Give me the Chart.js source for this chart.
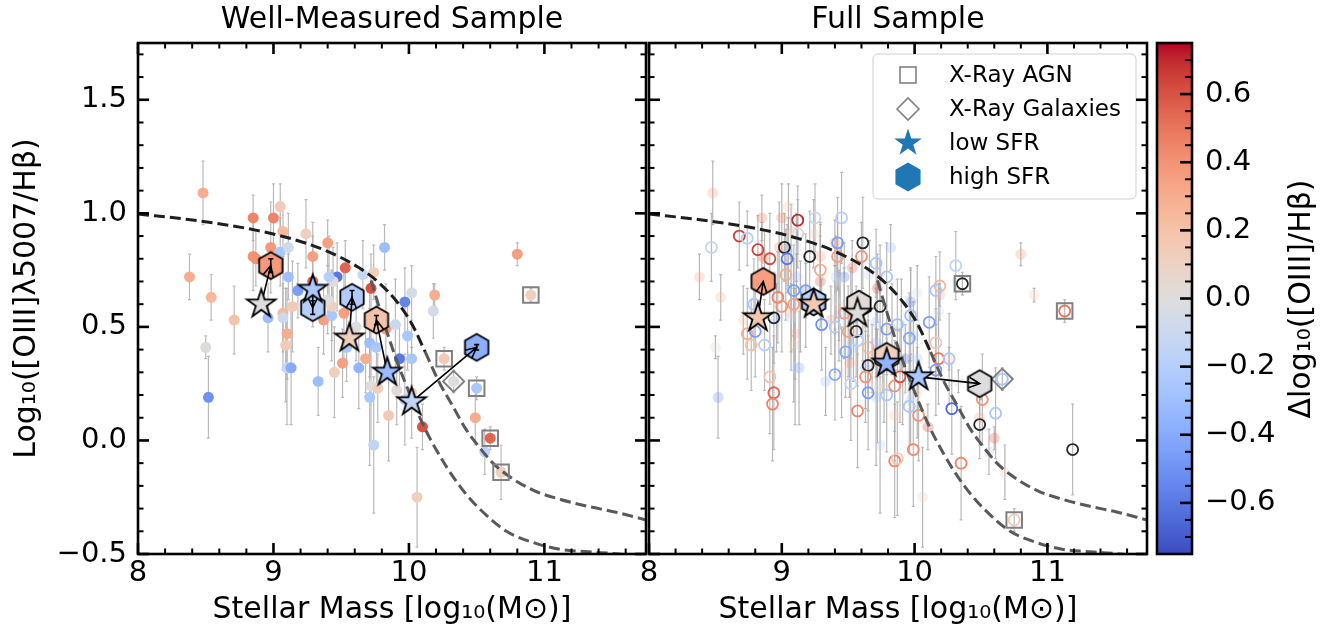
<!DOCTYPE html>
<html><head><meta charset="utf-8">
<title>Mass-Excitation diagram</title>
<script src="https://cdn.jsdelivr.net/npm/chart.js@4.4.1/dist/chart.umd.min.js"></script>
<style>
html,body{margin:0;padding:0;background:#ffffff;}
body{width:1328px;height:631px;position:relative;overflow:hidden;}
canvas{position:absolute;top:0;}
</style></head><body>
<canvas id="cWM" width="660" height="631" style="left:0px;width:660px;height:631px"></canvas>
<canvas id="cFull" width="560" height="631" style="left:600px;width:560px;height:631px"></canvas>
<canvas id="cBar" width="178" height="631" style="left:1150px;width:178px;height:631px"></canvas>
<script>
// ---------------- tick labels ----------------
const massTicks = [8, 9, 10, 11];
const o3Ticks = [-0.5, 0.0, 0.5, 1.0, 1.5];
const deltaTicks = [-0.6, -0.4, -0.2, 0.0, 0.2, 0.4, 0.6];
const panelTitles = ['Well-Measured Sample', 'Full Sample'];
const xTitle = 'Stellar Mass [log\u2081\u2080(M\u2299)]';
const yTitle = 'Log\u2081\u2080([OIII]\u03bb5007/H\u03b2)';
const cbTitleText = '\u0394log\u2081\u2080([OIII]/H\u03b2)';
const legendLabels = ['X-Ray AGN', 'X-Ray Galaxies', 'low SFR', 'high SFR'];

// ---------------- Well-Measured sample ----------------
const wmMass = [8.48,8.38,8.54,8.71,8.50,8.52,8.85,9.00,9.05,9.07,
  9.24,9.40,8.85,8.87,8.98,9.05,9.11,9.29,9.53,9.11,
  9.18,9.29,9.47,9.44,9.41,9.72,9.74,9.66,9.82,9.14,
  9.07,9.07,8.96,9.37,9.43,9.43,9.52,9.40,9.10,9.09,
  9.61,9.71,9.71,9.83,9.10,9.13,9.33,9.45,9.51,9.63,
  9.68,9.72,9.71,9.77,9.85,9.74,9.91,9.93,10.02,9.99,
  9.90,9.97,10.02,9.76,9.54,10.10,10.06,10.02,9.97,10.80,
  10.19,10.18,10.26,10.33,10.50,10.49,10.60,10.56,10.68,10.90];
const wmO3 = [1.09,0.72,0.63,0.53,0.41,0.19,0.98,0.98,1.03,0.92,
  0.91,0.87,0.81,0.80,0.85,0.83,0.85,0.81,0.76,0.72,
  0.66,0.70,0.72,0.70,0.72,0.67,0.74,0.73,0.85,0.59,
  0.56,0.54,0.54,0.53,0.55,0.59,0.56,0.62,0.47,0.42,
  0.50,0.52,0.43,0.49,0.32,0.32,0.26,0.30,0.34,0.32,
  0.36,0.24,0.19,0.23,0.11,-0.02,0.22,0.36,0.36,0.46,
  0.51,0.61,0.65,0.41,0.41,0.06,-0.25,0.21,0.18,0.82,
  0.64,0.57,0.36,0.26,0.23,0.10,0.01,-0.05,-0.14,0.64];
const wmDelta = [0.30,0.30,0.25,0.20,0.02,-0.50,0.45,0.45,0.15,0.25,
  0.12,0.35,0.40,0.40,0.38,-0.25,-0.08,0.35,0.55,-0.30,
  -0.45,0.55,-0.60,0.00,-0.20,0.60,0.12,-0.12,-0.30,0.15,
  0.25,-0.10,-0.30,0.35,-0.25,0.12,0.35,0.00,0.30,0.15,
  0.00,-0.25,-0.30,0.35,-0.12,-0.40,-0.30,0.12,0.35,-0.35,
  0.30,0.00,-0.25,0.12,0.15,-0.15,0.02,-0.60,-0.25,-0.25,
  -0.10,-0.55,-0.05,-0.25,-0.25,0.60,0.12,0.12,-0.20,0.35,
  0.30,-0.05,0.15,0.00,-0.25,0.30,0.55,-0.15,0.12,0.12];
const wmErr = [0.14,0.10,0.10,0.15,0.05,0.18,0.10,0.15,0.10,0.12,
  0.15,0.10,0.15,0.12,0.20,0.15,0.15,0.15,0.12,0.10,
  0.12,0.20,0.15,0.15,0.18,0.15,0.12,0.15,0.10,0.20,
  0.25,0.15,0.15,0.15,0.20,0.15,0.20,0.15,0.20,0.25,
  0.15,0.15,0.15,0.20,0.25,0.25,0.15,0.20,0.15,0.18,
  0.15,0.25,0.30,0.15,0.20,0.30,0.15,0.15,0.15,0.15,
  0.20,0.15,0.12,0.20,0.15,0.10,0.22,0.20,0.20,0.05,
  0.05,0.12,0.05,0.05,0.05,0.12,0.05,0.10,0.12,0.03];
const agnWmMass = [10.26, 10.50, 10.60, 10.68, 10.90];
const agnWmO3 = [0.36, 0.23, 0.01, -0.14, 0.64];
const xgalWmMass = [10.33];
const xgalWmO3 = [0.26];
const lowWmMass = [8.91, 9.29, 9.56, 9.84, 10.02];
const lowWmO3 = [0.60, 0.665, 0.45, 0.30, 0.17];
const lowWmDelta = [0.0, -0.25, 0.12, -0.32, -0.15];
const highWmMass = [8.98, 9.29, 9.58, 9.76, 10.50];
const highWmO3 = [0.77, 0.585, 0.63, 0.53, 0.41];
const highWmDelta = [0.38, -0.20, -0.22, 0.20, -0.38];
const highWmErr = [0.03, 0.03, 0.03, 0.02, 0.012];

// ---------------- Full sample (additional objects) ----------------
const fullMass = [9.12,8.68,8.74,8.47,8.82,8.91,9.02,9.04,9.21,9.12,
  9.45,9.42,9.61,9.60,9.71,9.42,9.29,9.03,9.09,9.18,
  8.97,9.00,9.09,8.79,8.74,8.80,8.77,8.87,8.94,9.30,
  9.40,9.47,9.50,9.56,9.74,9.79,9.48,9.57,9.65,9.63,
  9.40,9.52,9.65,8.91,8.94,9.79,10.36,11.13,9.79,10.19,
  10.16,9.97,9.87,10.11,9.96,9.65,10.16,9.85,9.89,10.18,
  10.26,10.16,9.96,10.03,10.28,10.51,10.61,10.49,11.19,9.99,
  9.85,9.87,10.35,8.93,9.57,10.66,10.75,9.25,10.31];
const fullO3 = [0.97,0.90,0.89,0.85,0.84,0.80,0.85,0.80,0.81,0.91,
  0.98,0.87,0.87,0.81,0.78,0.81,0.75,0.73,0.66,0.66,
  0.63,0.59,0.60,0.60,0.47,0.48,0.42,0.42,0.54,0.51,
  0.50,0.56,0.48,0.48,0.59,0.49,0.39,0.44,0.33,0.28,
  0.29,0.25,0.21,0.28,0.21,0.20,0.69,0.57,0.72,0.68,
  0.66,0.55,0.51,0.52,0.45,0.41,0.43,0.24,0.28,0.36,
  0.36,0.31,0.15,0.11,0.14,0.18,0.12,0.07,-0.04,-0.04,
  -0.09,-0.08,-0.10,0.16,0.13,0.27,-0.35,0.98,0.77];
const fullDelta = [0.70,0.65,-0.20,-0.12,0.65,0.62,null,-0.60,null,-0.05,
  -0.20,-0.45,null,0.40,-0.25,0.35,0.30,0.30,-0.45,-0.45,
  0.45,0.40,0.35,-0.25,0.30,-0.45,0.20,-0.20,null,-0.50,
  -0.20,0.35,0.35,null,null,-0.45,-0.40,-0.20,null,0.40,
  -0.40,-0.12,-0.45,0.20,0.55,-0.25,null,0.50,-0.25,0.25,
  -0.25,-0.30,-0.30,-0.45,-0.40,0.25,0.15,0.40,0.60,0.50,
  -0.25,-0.45,-0.25,0.40,-0.65,0.40,-0.25,null,null,0.45,
  0.45,0.15,0.45,0.45,0.45,-0.25,0.15,-0.10,-0.15];
const fullErr = [0.15,0.15,0.12,0.15,0.15,0.20,0.15,0.15,0.20,0.15,
  0.20,0.20,0.20,0.15,0.15,0.15,0.20,0.20,0.20,0.25,
  0.20,0.20,0.20,0.20,0.20,0.20,0.20,0.20,0.20,0.20,
  0.20,0.20,0.20,0.20,0.20,0.20,0.20,0.20,0.20,0.20,
  0.20,0.25,0.25,0.25,0.25,0.25,0.05,0.05,0.15,0.15,
  0.15,0.20,0.20,0.20,0.20,0.20,0.15,0.20,0.20,0.20,
  0.20,0.20,0.20,0.20,0.20,0.20,0.20,0.15,0.20,0.25,
  0.25,0.25,0.25,0.25,0.25,0.05,0.05,0.15,0.15];
const agnFullMass = [10.36, 11.13, 10.75];
const agnFullO3 = [0.69, 0.57, -0.35];
const xgalFullMass = [10.66];
const xgalFullO3 = [0.27];
const lowFullMass = [8.82, 9.24, 9.57, 9.79, 10.03];
const lowFullO3 = [0.54, 0.60, 0.56, 0.34, 0.28];
const lowFullDelta = [0.18, 0.15, 0.0, -0.35, -0.25];
const highFullMass = [8.86, 9.24, 9.58, 9.79, 10.49];
const highFullO3 = [0.70, 0.61, 0.60, 0.37, 0.25];
const highFullDelta = [0.35, -0.20, 0.02, 0.12, 0.0];

// ---------------- demarcation curves ----------------
const mexUpperMass = [8.0, 8.37, 8.62, 8.87, 9.12, 9.37, 9.62, 9.77, 9.92, 10.02, 10.12];
const mexUpperO3 = [0.997, 0.973, 0.952, 0.926, 0.89, 0.84, 0.765, 0.699, 0.604, 0.515, 0.39];
const mexCubicMass = [10.12, 10.22, 10.32, 10.42, 10.52, 10.62, 10.72, 10.92, 11.12, 11.32, 11.52, 11.75];
const mexCubicO3 = [0.39, 0.26, 0.155, 0.05, -0.03, -0.10, -0.15, -0.22, -0.26, -0.29, -0.315, -0.35];
const mexLowerMass = [9.72, 9.82, 9.92, 10.02, 10.12, 10.22, 10.32, 10.42, 10.52, 10.72, 10.92, 11.12, 11.32, 11.62, 11.75];
const mexLowerO3 = [0.705, 0.51, 0.335, 0.185, 0.05, -0.06, -0.155, -0.235, -0.30, -0.40, -0.45, -0.48, -0.49, -0.505, -0.52];

// ---------------- style helpers ----------------
const CW = [[59,76,192],[68,90,204],[77,104,215],[87,117,225],[98,130,234],[108,142,241],[119,154,247],[130,165,251],[141,176,254],[152,185,255],[163,194,255],[174,201,253],[184,208,249],[194,213,244],[204,217,238],[213,219,230],[221,221,221],[229,216,209],[236,211,197],[241,204,185],[245,196,173],[247,187,160],[247,177,148],[247,166,135],[244,154,123],[241,141,111],[236,127,99],[229,112,88],[222,96,77],[213,80,66],[203,62,56],[192,40,47],[180,4,38]];
function cmap(v, a) {
  if (v === null || v === undefined) return 'rgba(40,40,40,' + a + ')';
  let t = (v + 0.75) / 1.5; t = Math.max(0, Math.min(1, t));
  const p = t * (CW.length - 1); const i = Math.min(Math.floor(p), CW.length - 2); const f = p - i;
  const c = CW[i].map((c0, k) => Math.round(c0 + (CW[i + 1][k] - c0) * f));
  return 'rgba(' + c[0] + ',' + c[1] + ',' + c[2] + ',' + a + ')';
}
function fmtTick(v) { const s = Math.abs(v).toFixed(1); return (v < -1e-9 ? '\u2212' : '') + s; }
const pts = (xs, ys) => xs.map((x, i) => ({x: x, y: ys[i]}));

const markerCache = {};
function marker(shape, fill, R, lw, stroke) {
  const key = [shape, fill, R, lw, stroke].join('|');
  if (markerCache[key]) return markerCache[key];
  const s = 2 * Math.ceil(R + lw + 2);
  const c = document.createElement('canvas'); c.width = s; c.height = s;
  const g = c.getContext('2d'); g.translate(s / 2, s / 2);
  g.beginPath();
  const n = shape === 'star' ? 10 : 6;
  for (let k = 0; k < n; k++) {
    const r = shape === 'star' ? (k % 2 ? R * 0.381966 : R) : R;
    const t = -Math.PI / 2 + k * 2 * Math.PI / n;
    if (k === 0) g.moveTo(r * Math.cos(t), r * Math.sin(t)); else g.lineTo(r * Math.cos(t), r * Math.sin(t));
  }
  g.closePath(); g.fillStyle = fill; g.fill();
  if (lw > 0) { g.lineWidth = lw; g.strokeStyle = stroke; g.lineJoin = 'miter'; g.stroke(); }
  markerCache[key] = c; return c;
}

Chart.defaults.font.family = "'DejaVu Sans', sans-serif";
Chart.defaults.color = '#000';

// ---------------- plugins ----------------
const frameTicks = {
  id: 'frameTicks',
  afterDraw(chart, args, o) {
    if (!o || !o.kind) return;
    const ctx = chart.ctx, a = chart.chartArea;
    ctx.save(); ctx.strokeStyle = '#000'; ctx.lineCap = 'butt';
    const tick = (x1, y1, x2, y2, w) => { ctx.lineWidth = w; ctx.beginPath(); ctx.moveTo(x1, y1); ctx.lineTo(x2, y2); ctx.stroke(); };
    if (o.kind === 'panel') {
      const xs = chart.scales.x, ys = chart.scales.y;
      for (let k = 40; k <= 58; k++) {
        const major = k % 5 === 0; const px = xs.getPixelForValue(k / 5);
        const L = major ? 11 : 5.5, w = major ? 2.6 : 2;
        tick(px, a.bottom, px, a.bottom - L, w); tick(px, a.top, px, a.top + L, w);
      }
      for (let k = -5; k <= 17; k++) {
        const major = k % 5 === 0; const py = ys.getPixelForValue(k / 10);
        const L = major ? 11 : 5.5, w = major ? 2.6 : 2;
        tick(a.left, py, a.left + L, py, w); tick(a.right, py, a.right - L, py, w);
      }
    } else if (o.kind === 'bar') {
      const ys = chart.scales.y;
      for (let k = -14; k <= 14; k++) {
        const major = k % 4 === 0; const py = ys.getPixelForValue(k / 20);
        const L = major ? 12 : 7, w = major ? 2.6 : 2;
        tick(a.right, py, a.right - L, py, w);
      }
    }
    ctx.lineWidth = 2.6; ctx.strokeRect(a.left, a.top, a.right - a.left, a.bottom - a.top);
    ctx.restore();
  }
};

function drawErr(chart, ds) {
  const ctx = chart.ctx, a = chart.chartArea, x = chart.scales.x, y = chart.scales.y;
  ctx.save(); ctx.beginPath(); ctx.rect(a.left, a.top, a.right - a.left, a.bottom - a.top); ctx.clip();
  ctx.strokeStyle = ds.errColor; ctx.lineWidth = ds.errWidth || 1.2;
  const c = ds.errCap || 1.5;
  ds.data.forEach((p, i) => {
    const e = ds.errs[i]; if (!e) return;
    const px = x.getPixelForValue(p.x), y1 = y.getPixelForValue(p.y - e), y2 = y.getPixelForValue(p.y + e);
    ctx.beginPath(); ctx.moveTo(px, y1); ctx.lineTo(px, y2);
    ctx.moveTo(px - c, y1); ctx.lineTo(px + c, y1); ctx.moveTo(px - c, y2); ctx.lineTo(px + c, y2);
    ctx.stroke();
  });
  ctx.restore();
}
const errorBars = {
  id: 'errorBars',
  beforeDatasetsDraw(chart) {
    chart.data.datasets.forEach(ds => { if (ds.errs && !ds.errTop) drawErr(chart, ds); });
  },
  afterDatasetDraw(chart, args) {
    const ds = chart.data.datasets[args.index];
    if (ds.errs && ds.errTop) drawErr(chart, ds);
  }
};

const arrows = {
  id: 'arrows',
  beforeDatasetDraw(chart, args, o) {
    if (!o || !o.pairs || args.index !== o.before) return;
    const ctx = chart.ctx, x = chart.scales.x, y = chart.scales.y;
    ctx.save(); ctx.strokeStyle = '#000'; ctx.lineWidth = 1.6;
    o.pairs.forEach(i => {
      const x1 = x.getPixelForValue(o.fromX[i]), y1 = y.getPixelForValue(o.fromY[i]);
      const x2 = x.getPixelForValue(o.toX[i]), y2 = y.getPixelForValue(o.toY[i]);
      const ang = Math.atan2(y2 - y1, x2 - x1), h = 12, sp = 0.45;
      ctx.beginPath(); ctx.moveTo(x1, y1); ctx.lineTo(x2, y2);
      ctx.moveTo(x2 - h * Math.cos(ang - sp), y2 - h * Math.sin(ang - sp)); ctx.lineTo(x2, y2);
      ctx.lineTo(x2 - h * Math.cos(ang + sp), y2 - h * Math.sin(ang + sp));
      ctx.stroke();
    });
    ctx.restore();
  }
};

const sampleLegend = {
  id: 'sampleLegend',
  afterDatasetsDraw(chart, args, o) {
    if (!o || !o.show) return;
    const ctx = chart.ctx, a = chart.chartArea;
    const bx = a.right - 274, by = a.top + 11, bw = 263, bh = 145, r = 5;
    ctx.save();
    ctx.beginPath();
    ctx.moveTo(bx + r, by); ctx.lineTo(bx + bw - r, by); ctx.arcTo(bx + bw, by, bx + bw, by + r, r);
    ctx.lineTo(bx + bw, by + bh - r); ctx.arcTo(bx + bw, by + bh, bx + bw - r, by + bh, r);
    ctx.lineTo(bx + r, by + bh); ctx.arcTo(bx, by + bh, bx, by + bh - r, r);
    ctx.lineTo(bx, by + r); ctx.arcTo(bx, by, bx + r, by, r); ctx.closePath();
    ctx.fillStyle = 'rgba(255,255,255,0.85)'; ctx.fill();
    ctx.strokeStyle = '#d0d0d0'; ctx.lineWidth = 1; ctx.stroke();
    const mx = bx + 35;
    legendLabels.forEach((lab, i) => {
      const cy = by + 21 + 34 * i;
      if (i === 0) { ctx.strokeStyle = '#808080'; ctx.lineWidth = 1.6; ctx.strokeRect(mx - 8, cy - 8, 16, 16); }
      else if (i === 1) { ctx.strokeStyle = '#808080'; ctx.lineWidth = 1.6; ctx.beginPath(); ctx.moveTo(mx - 11, cy); ctx.lineTo(mx, cy - 11); ctx.lineTo(mx + 11, cy); ctx.lineTo(mx, cy + 11); ctx.closePath(); ctx.stroke(); }
      else { const m = marker(i === 2 ? 'star' : 'hex', '#1f77b4', 14.5, 0, '#000'); ctx.drawImage(m, mx - m.width / 2, cy - m.height / 2); }
      ctx.fillStyle = '#000'; ctx.font = "23px 'DejaVu Sans'"; ctx.textAlign = 'left'; ctx.textBaseline = 'middle';
      ctx.fillText(lab, bx + 76, cy + 1);
    });
    ctx.restore();
  }
};

const cbTitle = {
  id: 'cbTitle',
  afterDraw(chart, args, o) {
    if (!o || !o.text) return;
    const ctx = chart.ctx;
    ctx.save(); ctx.translate(o.x, o.y); ctx.rotate(-Math.PI / 2);
    ctx.font = o.size + "px 'DejaVu Sans'"; ctx.fillStyle = '#000'; ctx.textAlign = 'center'; ctx.textBaseline = 'middle';
    ctx.fillText(o.text, 0, 0); ctx.restore();
  }
};

// ---------------- shared builders ----------------
function curveSets() {
  const base = {type: 'line', showLine: true, pointRadius: 0, borderWidth: 3, borderDash: [11, 5], fill: false, cubicInterpolationMode: 'monotone', order: 7};
  return [
    Object.assign({}, base, {data: pts(mexUpperMass, mexUpperO3), borderColor: '#1e1e1e'}),
    Object.assign({}, base, {data: pts(mexCubicMass, mexCubicO3), borderColor: '#595959'}),
    Object.assign({}, base, {data: pts(mexLowerMass, mexLowerO3), borderColor: '#595959'})
  ];
}
function scalesFor(showYLabels, yWidth) {
  return {
    x: {
      type: 'linear', min: 8, max: 11.75,
      afterBuildTicks: s => { s.ticks = massTicks.map(v => ({value: v})); },
      afterFit: s => { s.height = 77; },
      grid: {display: false, drawTicks: false}, border: {display: false},
      ticks: {font: {size: 29}, color: '#000', padding: 2, maxRotation: 0, autoSkip: false, callback: v => String(v)},
      title: {display: true, text: xTitle, font: {size: 30}, color: '#000', padding: {top: 0, bottom: 3}}
    },
    y: {
      type: 'linear', min: -0.5, max: 1.75,
      afterBuildTicks: s => { s.ticks = o3Ticks.map(v => ({value: v})); },
      afterFit: s => { s.width = yWidth; },
      grid: {display: false, drawTicks: false}, border: {display: false},
      ticks: {display: showYLabels, font: {size: 29}, color: '#000', padding: 11, callback: v => fmtTick(v)},
      title: {display: showYLabels, text: yTitle, font: {size: 30}, color: '#000', padding: {top: 9, bottom: 0}}
    }
  };
}

// ---------------- Well-Measured panel ----------------
new Chart(document.getElementById('cWM'), {
  type: 'scatter',
  data: {datasets: [
    {data: pts(wmMass, wmO3), pointRadius: 5.5, pointBorderWidth: 0, pointBackgroundColor: wmDelta.map(d => cmap(d, 1)),
     errs: wmErr, errColor: 'rgba(175,175,175,0.85)', order: 10},
    ...curveSets(),
    {data: pts(agnWmMass, agnWmO3), pointStyle: 'rect', pointRadius: 11, pointBackgroundColor: 'rgba(0,0,0,0)', pointBorderColor: '#808080', pointBorderWidth: 2, order: 5},
    {data: pts(xgalWmMass, xgalWmO3), pointStyle: 'rectRot', pointRadius: 10.5, pointBackgroundColor: 'rgba(0,0,0,0)', pointBorderColor: '#808080', pointBorderWidth: 2, order: 5},
    {data: pts(highWmMass, highWmO3), pointRadius: 12, pointStyle: highWmDelta.map(d => marker('hex', cmap(d, 1), 13.5, 1.8, '#000')),
     errs: highWmErr, errColor: '#000', errWidth: 1.6, errCap: 2.5, errTop: true, order: 3},
    {data: pts(lowWmMass, lowWmO3), pointRadius: 12, pointStyle: lowWmDelta.map(d => marker('star', cmap(d, 1), 15, 1.8, '#000')), order: 1}
  ]},
  options: {
    responsive: false, animation: false, events: [],
    layout: {padding: {left: 0, right: 14, top: 0, bottom: 0}},
    plugins: {
      legend: {display: false}, tooltip: {enabled: false},
      title: {display: true, text: panelTitles[0], fullSize: false, font: {size: 30, weight: 'normal'}, color: '#000', padding: {top: 2, bottom: 5}},
      frameTicks: {kind: 'panel'},
      arrows: {pairs: [0, 1, 2, 3, 4], before: 7, fromX: lowWmMass, fromY: lowWmO3, toX: highWmMass, toY: highWmO3}
    },
    scales: scalesFor(true, 138)
  },
  plugins: [errorBars, arrows, frameTicks]
});

// ---------------- Full panel ----------------
new Chart(document.getElementById('cFull'), {
  type: 'scatter',
  data: {datasets: [
    {data: pts(wmMass, wmO3), pointRadius: 5.5, pointBorderWidth: 0, pointBackgroundColor: wmDelta.map(d => cmap(d, 0.3)),
     errs: wmErr, errColor: 'rgba(165,165,165,0.8)', order: 12},
    {data: pts(fullMass, fullO3), pointRadius: 5.5, pointBorderWidth: 1.8, pointBackgroundColor: 'rgba(0,0,0,0)',
     pointBorderColor: fullDelta.map(d => d === null ? 'rgba(40,40,40,1)' : cmap(d, 1)),
     errs: fullErr, errColor: 'rgba(175,175,175,0.85)', order: 10},
    ...curveSets(),
    {data: pts(agnFullMass, agnFullO3), pointStyle: 'rect', pointRadius: 11, pointBackgroundColor: 'rgba(0,0,0,0)', pointBorderColor: '#808080', pointBorderWidth: 2, order: 5},
    {data: pts(xgalFullMass, xgalFullO3), pointStyle: 'rectRot', pointRadius: 10.5, pointBackgroundColor: 'rgba(0,0,0,0)', pointBorderColor: '#808080', pointBorderWidth: 2, order: 5},
    {data: pts(highFullMass, highFullO3), pointRadius: 12, pointStyle: highFullDelta.map(d => marker('hex', cmap(d, 1), 13.5, 1.8, '#000')), order: 3},
    {data: pts(lowFullMass, lowFullO3), pointRadius: 12, pointStyle: lowFullDelta.map(d => marker('star', cmap(d, 1), 15, 1.8, '#000')), order: 1}
  ]},
  options: {
    responsive: false, animation: false, events: [],
    layout: {padding: {left: 0, right: 3, top: 0, bottom: 0}},
    plugins: {
      legend: {display: false}, tooltip: {enabled: false},
      title: {display: true, text: panelTitles[1], fullSize: false, font: {size: 30, weight: 'normal'}, color: '#000', padding: {top: 2, bottom: 5}},
      frameTicks: {kind: 'panel'},
      arrows: {pairs: [0, 4], before: 8, fromX: lowFullMass, fromY: lowFullO3, toX: highFullMass, toY: highFullO3},
      sampleLegend: {show: true}
    },
    scales: scalesFor(false, 49)
  },
  plugins: [errorBars, arrows, sampleLegend, frameTicks]
});

// ---------------- colour bar ----------------
new Chart(document.getElementById('cBar'), {
  type: 'bar',
  data: {labels: ['cb'], datasets: [{
    data: [[-0.75, 0.75]], barPercentage: 1, categoryPercentage: 1, borderWidth: 0, borderSkipped: false,
    backgroundColor: (c) => {
      const ca = c.chart.chartArea; if (!ca) return '#ddd';
      const g = c.chart.ctx.createLinearGradient(0, ca.bottom, 0, ca.top);
      CW.forEach((col, i) => g.addColorStop(i / (CW.length - 1), 'rgb(' + col.join(',') + ')'));
      return g;
    }
  }]},
  options: {
    responsive: false, animation: false, events: [],
    layout: {padding: {left: 7, right: 0, top: 43, bottom: 77}},
    plugins: {legend: {display: false}, tooltip: {enabled: false}, frameTicks: {kind: 'bar'},
      cbTitle: {text: cbTitleText, x: 152, y: 299, size: 30}},
    scales: {
      x: {display: false},
      y: {position: 'right', min: -0.75, max: 0.75,
        afterBuildTicks: s => { s.ticks = deltaTicks.map(v => ({value: v})); },
        afterFit: s => { s.width = 136; },
        grid: {display: false, drawTicks: false}, border: {display: false},
        ticks: {font: {size: 29}, color: '#000', padding: 13, callback: v => fmtTick(v)}}
    }
  },
  plugins: [frameTicks, cbTitle]
});
</script>
</body></html>
